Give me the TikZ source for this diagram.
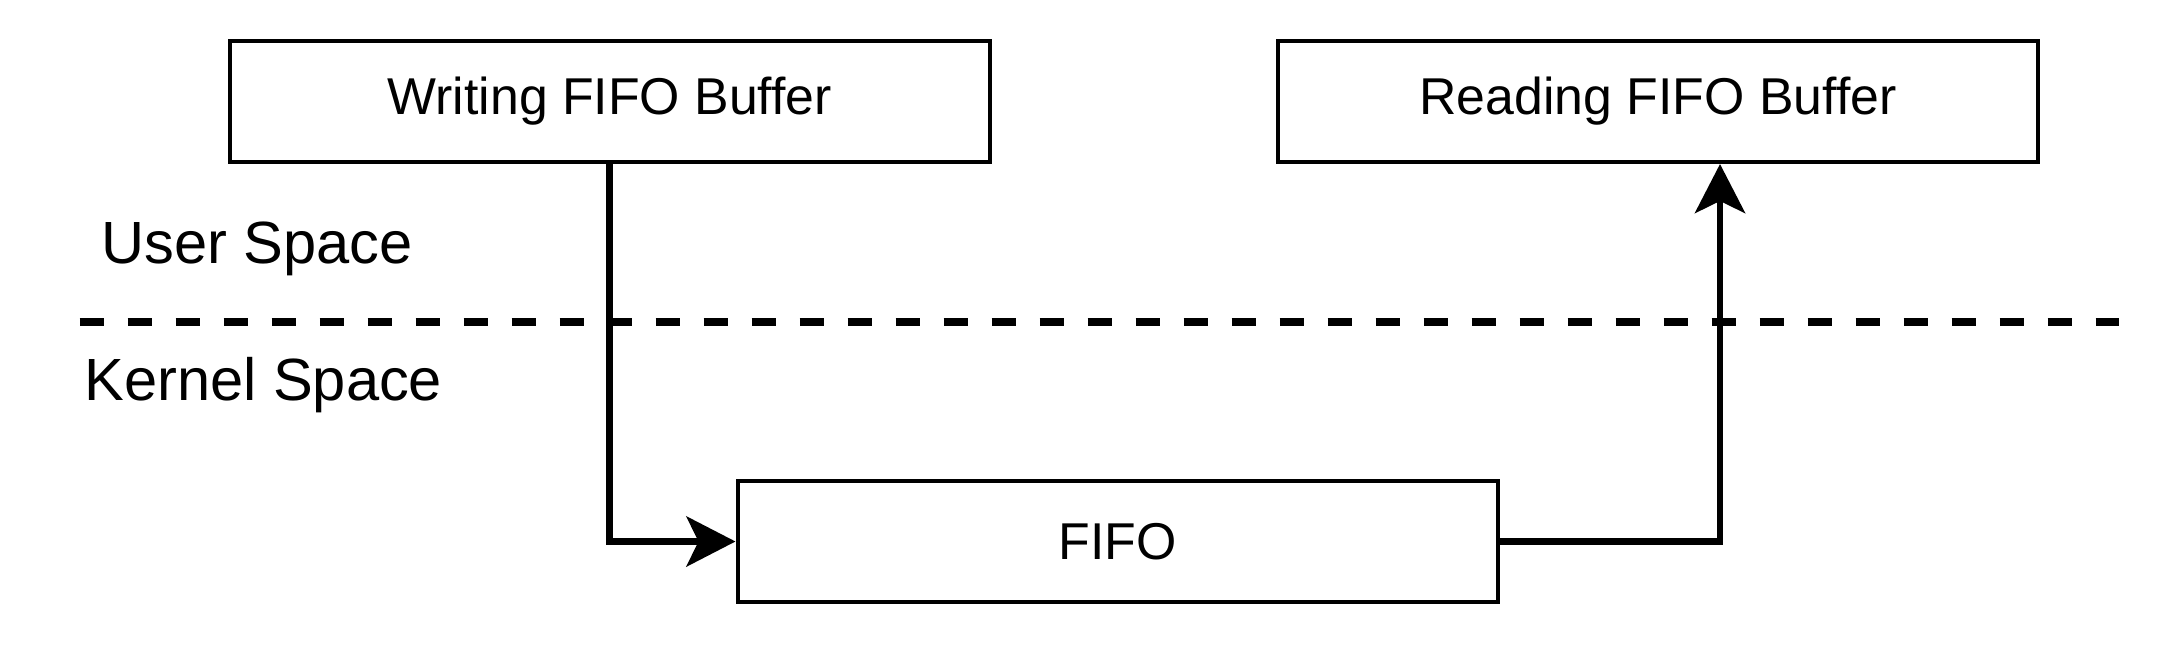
\documentclass[tikz,border=0pt]{standalone}
\usepackage{fontspec}
\setmainfont{Liberation Sans}
\usetikzlibrary{arrows.meta,calc}
\tikzset{
  boxnode/.style={draw, line width=2pt, minimum width=380pt, minimum height=60.5pt, inner sep=0pt, font=\fontsize{25.9pt}{30pt}\selectfont},
  conn/.style={line width=3.4pt, -{Stealth[length=24.5pt, width=25pt, inset=6pt]}},
  sep/.style={line width=3.6pt, dash pattern=on 12pt off 12pt},
  lbl/.style={anchor=base west, inner sep=0pt, font=\fontsize{29.8pt}{34pt}\selectfont}
}
\begin{document}
\begin{tikzpicture}[x=0.5pt,y=-0.5pt]
\useasboundingbox (0,0) rectangle (2168,644);
\coordinate (dl) at (79.5,322);
\coordinate (dr) at (2119,322);
\draw[sep] (dl) -- (dr);
\node[boxnode] (w) at (609.75,101.5) {Writing FIFO Buffer};
\node[boxnode] (r) at (1658,101.5) {Reading FIFO Buffer};
\node[boxnode] (f) at (1117.5,541.5) {FIFO};
\node[lbl] (us) at (101,263) {User Space};
\node[lbl] (ks) at (84,400) {Kernel Space};
\draw[conn] (w.south) |- (f.west);
\draw[conn] (f.east) -| ([xshift=31pt]r.south);
\end{tikzpicture}
\end{document}
